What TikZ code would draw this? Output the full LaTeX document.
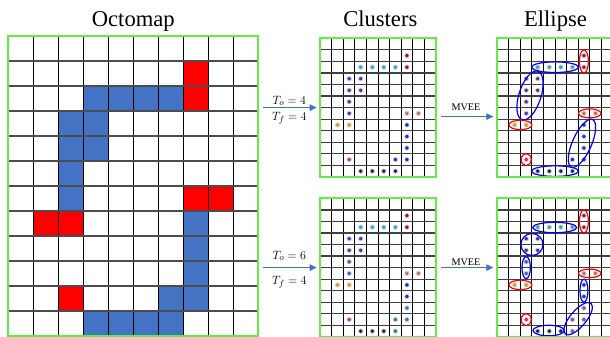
\documentclass[tikz,border=0pt]{standalone}
\usepackage{fontspec}
\setmainfont{Liberation Serif}
\usetikzlibrary{arrows.meta}
\definecolor{gbord}{RGB}{100,235,70}
\definecolor{cellblue}{RGB}{68,114,196}
\definecolor{cellred}{RGB}{255,0,0}
\definecolor{arrblue}{RGB}{68,114,196}
\definecolor{dred}{RGB}{150,20,45}
\definecolor{dcyan}{RGB}{40,170,200}
\definecolor{dpurple}{RGB}{100,40,160}
\definecolor{dbrown}{RGB}{190,120,80}
\definecolor{dgold}{RGB}{210,160,40}
\definecolor{dblue}{RGB}{20,50,200}
\definecolor{dmag}{RGB}{190,50,140}
\definecolor{dnavy}{RGB}{20,35,100}
\definecolor{dsteel}{RGB}{60,100,170}
\definecolor{dteal}{RGB}{30,130,160}
\definecolor{dviolet}{RGB}{120,80,180}
\definecolor{dindigo}{RGB}{70,50,150}
\newcommand\smallgrid{%
  \foreach \i in {1,...,9} \draw[svgrid] (\i,0) -- (\i,12);
  \foreach \j in {1,...,11} \draw[shgrid] (0,\j) -- (10,\j);}
\newcommand\dotsat[2]{%
  \foreach \r/\c in {#2} \fill[fill=#1, draw=gray!35, line width=0.7pt] (\c+0.5,\r+0.5) circle[radius=2.2pt];}
\begin{document}
\begin{tikzpicture}[x=1pt,y=-1pt,
  box/.style={rectangle, inner sep=0pt, outer sep=0pt, draw=none},
  gframe/.style={draw=gbord, line width=2pt},
  vgrid/.style={draw=black, line width=1.1pt},
  hgrid/.style={draw=black!70, line width=1.6pt},
  svgrid/.style={draw=black, line width=1pt},
  shgrid/.style={draw=black!75, line width=1.3pt},
  arr/.style={draw=arrblue, line width=1.2pt, -{Triangle[length=7pt,width=6.5pt]}},
  title/.style={font=\fontsize{22.6}{24}\selectfont, anchor=base, inner sep=0pt},
  lab/.style={font=\fontsize{12.5}{14}\selectfont, anchor=base, inner sep=0pt},
  mvee/.style={font=\fontsize{10.2}{11}\selectfont, anchor=base, inner sep=0pt},
  bell/.style={draw=blue, line width=1.2pt},
  rell/.style={draw=red, line width=1.2pt}]
\useasboundingbox (0,0) rectangle (610,337);

% ---------- titles
\node[title] (tocto) at (133.3,26.7) {Octomap};
\node[title] (tclus) at (380.3,26.3) {Clusters};
\node[title] (tell) at (555.5,26.3) {Ellipse};

% ---------- octomap
\node[box, minimum width=250pt, minimum height=300pt] (octo) at (133.3,186) {};
\begin{scope}[shift={(octo.north west)}, x=25pt, y=-25pt]
  \foreach \r/\c in {2/3,2/4,2/5,2/6,3/2,3/3,4/2,4/3,5/2,6/2,7/7,8/7,9/7,10/6,10/7,11/3,11/4,11/5,11/6}
    \fill[cellblue] (\c,\r) rectangle ++(1,1);
  \foreach \r/\c in {1/7,2/7,6/7,6/8,7/1,7/2,10/2}
    \fill[cellred] (\c,\r) rectangle ++(1,1);
  \foreach \i in {1,...,9} \draw[vgrid] (\i,0) -- (\i,12);
  \foreach \j in {1,...,11} \draw[hgrid] (0,\j) -- (10,\j);
\end{scope}
\draw[gframe] (octo.north west) rectangle (octo.south east);

% ---------- panels
\node[box, minimum width=115.5pt, minimum height=138.6pt] (c1) at (378.05,107.6) {};
\node[box, minimum width=115.5pt, minimum height=138.6pt] (c2) at (378.05,267.6) {};
\node[box, minimum width=115.5pt, minimum height=138.6pt] (e1) at (555.05,107.6) {};
\node[box, minimum width=115.5pt, minimum height=138.6pt] (e2) at (555.05,267.6) {};

% clusters top
\begin{scope}[shift={(c1.north west)}, x=11.55pt, y=-11.55pt]
  \smallgrid
  \dotsat{dred}{1/7,2/7}
  \dotsat{dcyan}{2/3,2/4,2/5,2/6}
  \dotsat{dpurple}{3/2,3/3,4/2,4/3,5/2,6/2}
  \dotsat{dbrown}{6/7,6/8}
  \dotsat{dgold}{7/1,7/2}
  \dotsat{dblue}{7/7,8/7,9/7,10/6,10/7}
  \dotsat{dmag}{10/2}
  \dotsat{dnavy}{11/3,11/4,11/5,11/6}
\end{scope}
\draw[gframe] (c1.north west) rectangle (c1.south east);

% clusters bottom
\begin{scope}[shift={(c2.north west)}, x=11.55pt, y=-11.55pt]
  \smallgrid
  \dotsat{dred}{1/7,2/7}
  \dotsat{dcyan}{2/3,2/4,2/5,2/6}
  \dotsat{dpurple}{3/2,3/3,4/2,4/3}
  \dotsat{dsteel}{5/2,6/2}
  \dotsat{dbrown}{6/7,6/8}
  \dotsat{dgold}{7/1,7/2}
  \dotsat{dblue}{7/7,8/7}
  \dotsat{dteal}{9/7,10/6,10/7,11/6}
  \dotsat{dmag}{10/2}
  \dotsat{dnavy}{11/3,11/4,11/5}
\end{scope}
\draw[gframe] (c2.north west) rectangle (c2.south east);

% ellipse top
\begin{scope}[shift={(e1.north west)}, x=11.55pt, y=-11.55pt]
  \smallgrid
  \dotsat{dred}{1/7,2/7}
  \dotsat{dcyan}{2/3,2/4,2/5,2/6}
  \dotsat{dpurple}{3/2,3/3,4/2,4/3,5/2,6/2}
  \dotsat{dbrown}{6/7,6/8}
  \dotsat{dgold}{7/1,7/2}
  \dotsat{dblue}{7/7,8/7,9/7,10/6,10/7}
  \dotsat{dmag}{10/2}
  \dotsat{dnavy}{11/3,11/4,11/5,11/6}
  \draw[rell] (7.5,2) ellipse[x radius=4.5pt, y radius=11.5pt];
  \draw[bell] (5,2.5) ellipse[x radius=23.5pt, y radius=5.3pt];
  \draw[bell, rotate around={-18:(2.83,4.95)}] (2.83,4.95) ellipse[x radius=11pt, y radius=25.5pt];
  \draw[rell] (8,6.5) ellipse[x radius=11.3pt, y radius=4.5pt];
  \draw[rell] (2,7.5) ellipse[x radius=11.5pt, y radius=4.7pt];
  \draw[bell, rotate around={-24:(7.33,9.09)}] (7.33,9.09) ellipse[x radius=9.5pt, y radius=26pt];
  \draw[rell] (2.5,10.5) ellipse[x radius=5pt, y radius=6pt];
  \draw[bell] (5,11.5) ellipse[x radius=23.5pt, y radius=5.3pt];
\end{scope}
\draw[gframe] (e1.north west) rectangle (e1.south east);

% ellipse bottom
\begin{scope}[shift={(e2.north west)}, x=11.55pt, y=-11.55pt]
  \smallgrid
  \dotsat{dred}{1/7,2/7}
  \dotsat{dcyan}{2/3,2/4,2/5,2/6}
  \dotsat{dindigo}{3/2,3/3,4/2,4/3}
  \dotsat{dsteel}{5/2,6/2}
  \dotsat{dbrown}{6/7,6/8}
  \dotsat{dgold}{7/1,7/2}
  \dotsat{dblue}{7/7,8/7}
  \dotsat{dviolet}{9/7,10/6,10/7,11/6}
  \dotsat{dmag}{10/2}
  \dotsat{dnavy}{11/3,11/4,11/5}
  \draw[rell] (7.5,2) ellipse[x radius=4.5pt, y radius=11.5pt];
  \draw[bell] (4.97,2.53) ellipse[x radius=22pt, y radius=5.2pt];
  \draw[bell] (3,4) circle[radius=11pt];
  \draw[bell] (2.5,6) ellipse[x radius=4.2pt, y radius=11pt];
  \draw[rell] (8,6.5) ellipse[x radius=11.3pt, y radius=4.3pt];
  \draw[rell] (2,7.5) ellipse[x radius=11.5pt, y radius=4.7pt];
  \draw[bell] (7.5,8) ellipse[x radius=4pt, y radius=11.5pt];
  \draw[bell, rotate around={-40:(7,10.42)}] (7,10.42) ellipse[x radius=8pt, y radius=20pt];
  \draw[rell] (2.5,10.5) ellipse[x radius=5pt, y radius=6pt];
  \draw[bell] (4.45,11.45) ellipse[x radius=15.7pt, y radius=5.3pt];
\end{scope}
\draw[gframe] (e2.north west) rectangle (e2.south east);

% ---------- arrows
\draw[arr, shorten <=4.4pt, shorten >=3.6pt] (octo.east |- c1.west) -- (c1.west);
\draw[arr, shorten <=4.4pt, shorten >=3.6pt] (octo.east |- c2.west) -- (c2.west);
\draw[arr, shorten <=5.3pt, shorten >=4pt] ([yshift=-9pt]c1.east) -- ([yshift=-9pt]e1.west);
\draw[arr, shorten <=5.3pt, shorten >=4pt] (c2.east) -- (e2.west);

% ---------- labels
\node[lab] (to1) at (289.3,104) {$T_o = 4$};
\node[lab] (tf1) at (289.3,120.5) {$T_f = 4$};
\node[lab] (to2) at (289.3,259) {$T_o = 6$};
\node[lab] (tf2) at (289.3,284) {$T_f = 4$};
\node[mvee] (m1) at (466,110.5) {MVEE};
\node[mvee] (m2) at (466,265.5) {MVEE};
\end{tikzpicture}
\end{document}
